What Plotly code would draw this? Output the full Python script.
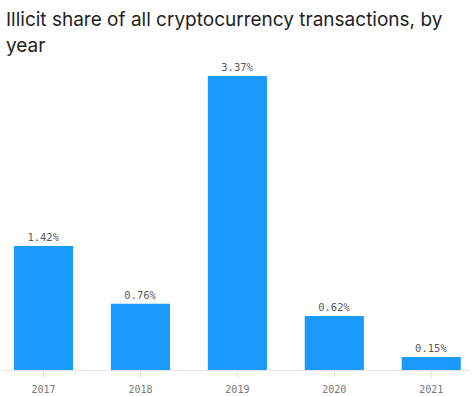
import plotly.graph_objects as go

years = ["2017", "2018", "2019", "2020", "2021"]
shares = [1.42, 0.76, 3.37, 0.62, 0.15]
labels = ["1.42%", "0.76%", "3.37%", "0.62%", "0.15%"]
title_lines = ["Illicit share of all cryptocurrency transactions, by", "year"]

PLOT_TOP = 62
PLOT_H = 308

def py(px):
    # convert pixel offset from top of figure to paper coords
    return 1 + (PLOT_TOP - px) / PLOT_H

fig = go.Figure(go.Bar(
    x=years, y=shares, text=labels, textposition="outside",
    textfont=dict(family="DejaVu Sans Mono", size=10.5, color="#5a5a5a"),
    marker=dict(color="#1a9bfc", line=dict(width=0)),
    width=0.61, cliponaxis=False,
))

annos = []
for i, line in enumerate(title_lines):
    annos.append(dict(
        text=line, xref="paper", yref="paper",
        x=0, y=py(6 + i * 26), xanchor="left", yanchor="top",
        align="left", showarrow=False,
        font=dict(family="Inter", size=19, color="#222222"),
    ))

fig.update_layout(
    width=474, height=396,
    margin=dict(l=4, r=4, t=PLOT_TOP, b=396 - PLOT_TOP - PLOT_H),
    paper_bgcolor="white", plot_bgcolor="white",
    showlegend=False,
    annotations=annos,
)
fig.update_xaxes(
    type="category", range=[-0.408, 4.40], automargin=False,
    showline=True, linecolor="#e3e3e3", linewidth=1,
    ticks="outside", ticklen=7, tickcolor="#e3e3e3",
    ticklabelstandoff=3,
    tickfont=dict(family="DejaVu Sans Mono", size=10, color="#777777"),
    showgrid=False,
)
fig.update_yaxes(range=[0, 3.53], visible=False, showgrid=False, automargin=False)

fig.write_html("out.html", config={"displayModeBar": False},
               post_script="document.body.style.margin='0';")
